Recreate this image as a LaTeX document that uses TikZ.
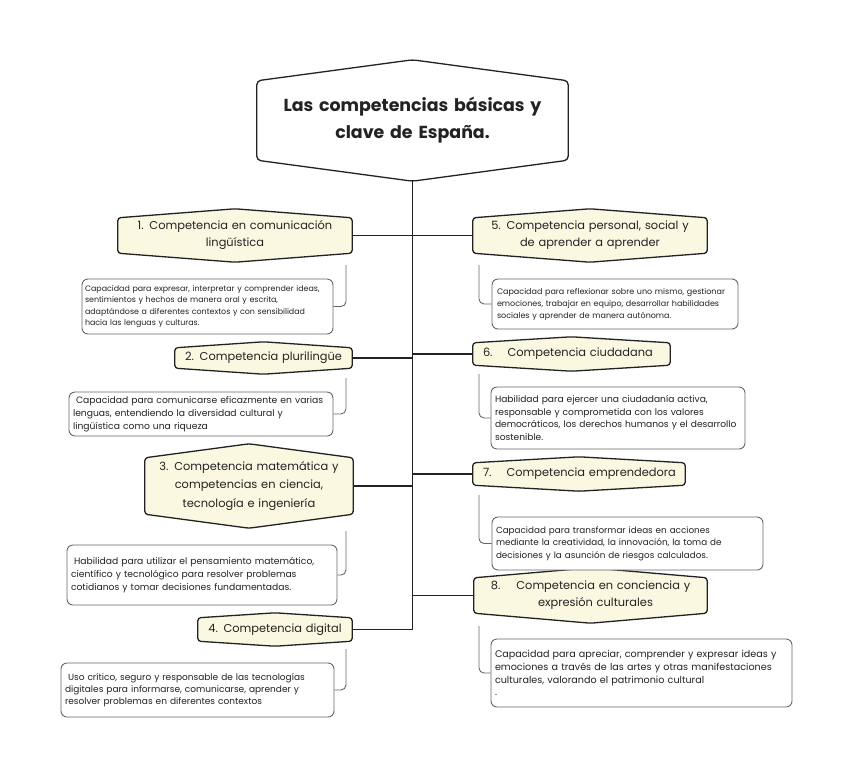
\documentclass[tikz,border=0pt]{standalone}
\usepackage{fontspec}
\setmainfont{Poppins}
\usetikzlibrary{backgrounds,calc}
\definecolor{ink}{HTML}{222222}
\definecolor{cream}{HTML}{FBF8E2}
\definecolor{lineg}{HTML}{666666}
\tikzset{
  head/.style={draw=none, inner sep=0pt, align=center, text=ink, font=\fontsize{11.4}{17}\selectfont},
  hexline/.style={draw=ink, line width=1.3pt, fill=cream, rounded corners=3pt},
  titleline/.style={draw=ink, line width=1.3pt, fill=white, rounded corners=4pt},
  desc/.style={draw=lineg, line width=0.9pt, rounded corners=6pt, fill=white, align=left, inner xsep=4pt, inner ysep=0pt, text=ink},
  trunk/.style={draw=ink, line width=1.3pt},
  conn/.style={draw=lineg, line width=0.9pt, rounded corners=5pt},
}
\newcommand\hexframe[3]{%
  \path[#3] (#1.north west) -- ([yshift=#2]#1.north) -- (#1.north east) -- (#1.south east) -- ([yshift=-#2]#1.south) -- (#1.south west) -- cycle;}
\begin{document}
\begin{tikzpicture}[x=1pt,y=-1pt]
\useasboundingbox (0,0) rectangle (848,774);

% title
\node[head, minimum width=311pt, minimum height=79pt, text width=300pt, font=\fontsize{17.4}{27}\selectfont\bfseries] (t) at (412.5,120.5) {Las competencias básicas y\\ clave de España.};

% headings
\node[head, minimum width=234pt, minimum height=35pt, text width=224pt] (h1) at (235,235.5) {1. Competencia en comunicación\\ lingüística};
\node[head, minimum width=177pt, minimum height=20pt, text width=170pt] (h2) at (263.5,358) {2. Competencia plurilingüe};
\node[head, minimum width=208pt, minimum height=56pt, text width=204pt, font=\fontsize{11.4}{18.5}\selectfont] (h3) at (249,486) {3. Competencia matemática y\\ competencias en ciencia,\\ tecnología e ingeniería};
\node[head, minimum width=154pt, minimum height=23pt, text width=150pt] (h4) at (275,629.5) {4. Competencia digital};
\node[head, minimum width=234pt, minimum height=35pt, text width=224pt] (h5) at (590,235.5) {5. Competencia personal, social y\\ de aprender a aprender};
\node[head, minimum width=197pt, minimum height=22pt, text width=197pt, align=left] (h6) at (571.5,354) {\hspace*{10pt}6.\hspace*{15pt}Competencia ciudadana};
\node[head, minimum width=212pt, minimum height=22pt, text width=212pt, align=left] (h7) at (579,474) {\hspace*{10pt}7.\hspace*{15pt}Competencia emprendedora};
\node[head, minimum width=233pt, minimum height=35pt, text width=226pt] (h8) at (590.5,595.5) {8.\hspace*{16pt}Competencia en conciencia y\\ \hspace*{10pt}expresión culturales};

\begin{scope}[on background layer]
  \fill[white] (0,0) rectangle (848,774);
  \hexframe{t}{21pt}{titleline}
  \hexframe{h1}{9pt}{hexline}
  \hexframe{h2}{6pt}{hexline}
  \hexframe{h3}{14pt}{hexline}
  \hexframe{h4}{5pt}{hexline}
  \hexframe{h5}{9pt}{hexline}
  \hexframe{h6}{6pt}{hexline}
  \hexframe{h7}{6pt}{hexline}
  \hexframe{h8}{10pt}{hexline}
\end{scope}

% descriptions
\node[desc, minimum width=251pt, minimum height=55pt, text width=245pt, inner xsep=3pt, font=\fontsize{7.9}{11.3}\selectfont] (d1) at (207.5,306.5) {Capacidad para expresar, interpretar y comprender ideas,\\ sentimientos y hechos de manera oral y escrita,\\ adaptándose a diferentes contextos y con sensibilidad\\ hacia las lenguas y culturas.};
\node[desc, minimum width=264pt, minimum height=44pt, text width=256pt, font=\fontsize{9.2}{13}\selectfont] (d2) at (201,414) {\hspace*{3pt}Capacidad para comunicarse eficazmente en varias\\ lenguas, entendiendo la diversidad cultural y\\ lingüística como una riqueza};
\node[desc, minimum width=270pt, minimum height=60pt, text width=262pt, font=\fontsize{9.2}{13}\selectfont] (d3) at (202,575) {\hspace*{3pt}Habilidad para utilizar el pensamiento matemático,\\ científico y tecnológico para resolver problemas\\ cotidianos y tomar decisiones fundamentadas.};
\node[desc, minimum width=273pt, minimum height=54pt, text width=265pt, font=\fontsize{9.0}{12}\selectfont] (d4) at (197.5,690) {\hspace*{3pt}Uso crítico, seguro y responsable de las tecnologías\\ digitales para informarse, comunicarse, aprender y\\ resolver problemas en diferentes contextos};
\node[desc, minimum width=246pt, minimum height=50pt, text width=236pt, font=\fontsize{8.0}{12}\selectfont] (d5) at (615,304) {Capacidad para reflexionar sobre uno mismo, gestionar\\ emociones, trabajar en equipo, desarrollar habilidades\\ sociales y aprender de manera autónoma.};
\node[desc, minimum width=254pt, minimum height=62pt, text width=246pt, font=\fontsize{9.1}{12.5}\selectfont] (d6) at (618,418) {Habilidad para ejercer una ciudadanía activa,\\ responsable y comprometida con los valores\\ democráticos, los derechos humanos y el desarrollo\\ sostenible.};
\node[desc, minimum width=271pt, minimum height=53pt, text width=263pt, font=\fontsize{8.8}{12.5}\selectfont] (d7) at (627.5,543.5) {Capacidad para transformar ideas en acciones\\ mediante la creatividad, la innovación, la toma de\\ decisiones y la asunción de riesgos calculados.};
\node[desc, minimum width=301pt, minimum height=68pt, text width=293pt, font=\fontsize{9.6}{12.8}\selectfont] (d8) at (641.5,673) {Capacidad para apreciar, comprender y expresar ideas y\\ emociones a través de las artes y otras manifestaciones\\ culturales, valorando el patrimonio cultural\\ .};

% trunk and branches
\coordinate (tb) at (412.5,181);
\draw[trunk] (tb) |- (h4.east);
\draw[trunk] (h1.east) -- (h1.east -| tb);
\draw[trunk] (h2.east) -- (h2.east -| tb);
\draw[trunk] (h3.east) -- (h3.east -| tb);
\draw[trunk] (tb |- h5.west) -- (h5.west);
\draw[trunk] (tb |- h6.west) -- (h6.west);
\draw[trunk] (tb |- h7.west) -- (h7.west);
\draw[trunk] (tb |- h8.west) -- (h8.west);

% heading to description connectors
\coordinate (c1) at (346,265);
\coordinate (c2) at (346,378);
\coordinate (c3) at (346,531);
\coordinate (c4) at (346,649);
\coordinate (c5) at (479,265);
\coordinate (c6) at (479,374);
\coordinate (c7) at (479,495);
\coordinate (c8) at (479,626);
\draw[conn] (c1) |- (d1.east);
\draw[conn] (c2) |- (d2.east);
\draw[conn] (c3) |- (d3.east);
\draw[conn] (c4) |- (d4.east);
\draw[conn] (c5) |- (d5.west);
\draw[conn] (c6) |- (d6.west);
\draw[conn] (c7) |- (d7.west);
\draw[conn] (c8) |- (d8.west);
\end{tikzpicture}
\end{document}
